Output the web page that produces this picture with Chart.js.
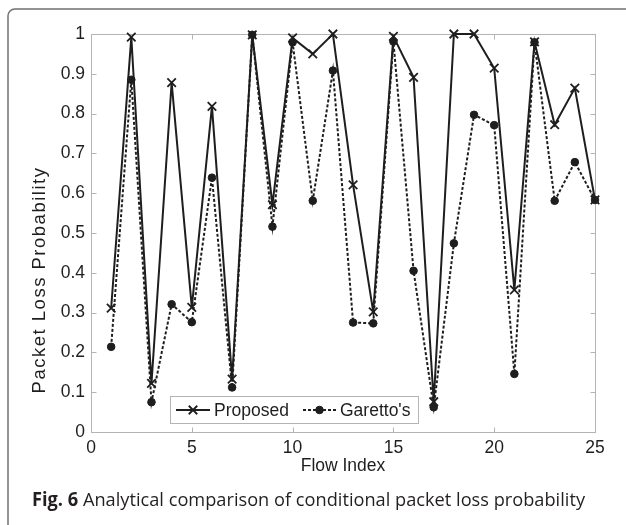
<!DOCTYPE html>
<html>
<head>
<meta charset="utf-8">
<script src="https://cdn.jsdelivr.net/npm/chart.js@4.4.1/dist/chart.umd.min.js"></script>
<style>
  html, body { margin: 0; padding: 0; background: #ffffff; }
  #wrap { width: 626px; height: 525px; position: relative; }
</style>
</head>
<body>
<div id="wrap"><canvas id="c" width="626" height="525"></canvas></div>
<script>
// Flow indices and per-flow loss probabilities for the two models
const flowIndex = [1, 2, 3, 4, 5, 6, 7, 8, 9, 10, 11, 12, 13, 14, 15, 16, 17, 18, 19, 20, 21, 22, 23, 24, 25];
const proposed  = [0.311, 0.992, 0.122, 0.878, 0.313, 0.818, 0.133, 0.998, 0.571, 0.990, 0.950, 1.000, 0.621,
                   0.302, 0.994, 0.891, 0.076, 1.000, 1.000, 0.914, 0.357, 0.980, 0.772, 0.864, 0.583];
const garetto   = [0.214, 0.885, 0.075, 0.321, 0.276, 0.639, 0.112, 0.998, 0.516, 0.979, 0.581, 0.908, 0.275,
                   0.273, 0.981, 0.405, 0.062, 0.474, 0.797, 0.771, 0.146, 0.979, 0.581, 0.678, 0.583];
const xTicks = [0, 5, 10, 15, 20, 25];
const yTicks = [0, 0.1, 0.2, 0.3, 0.4, 0.5, 0.6, 0.7, 0.8, 0.9, 1];
const seriesNames = ['Proposed', "Garetto's"];
const xTitle = 'Flow Index';
const yTitle = 'Packet Loss Probability';
const captionLead = 'Fig. 6';
const captionText = 'Analytical comparison of conditional packet loss probability';

const INK = '#1e1e1e';
const AXIS = '#b4b4b4';
const FONT = '"Liberation Sans", Arial, Helvetica, sans-serif';
const FSIZE = 17.5;

Chart.defaults.font.family = FONT;
Chart.defaults.color = INK;

const toPoints = vals => flowIndex.map((f, i) => ({ x: f, y: vals[i] }));

// Axes box with inward ticks on all four sides
const axesBox = {
  id: 'axesBox',
  beforeDatasetsDraw(chart) {
    const { ctx, chartArea: a, scales: { x, y } } = chart;
    const L = Math.round(a.left) + 0.5, R = Math.round(a.right) + 0.5;
    const T = Math.round(a.top) + 0.5, B = Math.round(a.bottom) + 0.5;
    const tl = 5;
    ctx.save();
    ctx.strokeStyle = AXIS;
    ctx.lineWidth = 1;
    ctx.strokeRect(L, T, R - L, B - T);
    ctx.beginPath();
    x.ticks.forEach(t => {
      const px = Math.round(x.getPixelForValue(t.value)) + 0.5;
      ctx.moveTo(px, B); ctx.lineTo(px, B - tl);
      ctx.moveTo(px, T); ctx.lineTo(px, T + tl);
    });
    y.ticks.forEach(t => {
      const py = Math.round(y.getPixelForValue(t.value)) + 0.5;
      ctx.moveTo(L, py); ctx.lineTo(L + tl, py);
      ctx.moveTo(R, py); ctx.lineTo(R - tl, py);
    });
    ctx.stroke();

    // vertical axis title, sitting slightly below the axis midpoint
    ctx.fillStyle = INK;
    ctx.font = `18.5px ${FONT}`;
    if ('letterSpacing' in ctx) ctx.letterSpacing = '1.5px';
    ctx.textAlign = 'center';
    ctx.textBaseline = 'middle';
    ctx.translate(40, 280);
    ctx.rotate(-Math.PI / 2);
    ctx.fillText(yTitle, 0, 0);
    ctx.restore();
  }
};

// Legend box placed inside the plot, near the bottom
const innerLegend = {
  id: 'innerLegend',
  afterDatasetsDraw(chart) {
    const { ctx } = chart;
    const box = { x: 170.5, y: 396.5, w: 248, h: 27 };
    const cy = box.y + box.h / 2;
    ctx.save();
    ctx.fillStyle = '#ffffff';
    ctx.fillRect(box.x, box.y, box.w, box.h);
    ctx.strokeStyle = AXIS;
    ctx.lineWidth = 1;
    ctx.strokeRect(box.x, box.y, box.w, box.h);
    const slots = [{ x0: 176, x1: 210, tx: 214 }, { x0: 303, x1: 336, tx: 340 }];
    chart.data.datasets.forEach((ds, i) => {
      const s = slots[i];
      ctx.strokeStyle = ds.borderColor;
      ctx.lineWidth = ds.borderWidth;
      ctx.setLineDash(ds.borderDash || []);
      ctx.beginPath();
      ctx.moveTo(s.x0, cy); ctx.lineTo(s.x1, cy);
      ctx.stroke();
      ctx.setLineDash([]);
      ctx.fillStyle = ds.backgroundColor;
      ctx.strokeStyle = ds.borderColor;
      ctx.lineWidth = ds.pointBorderWidth;
      Chart.helpers.drawPoint(ctx, { pointStyle: ds.pointStyle, radius: ds.pointRadius, rotation: 0, borderWidth: ds.pointBorderWidth }, (s.x0 + s.x1) / 2, cy);
      ctx.fillStyle = INK;
      ctx.font = `${FSIZE}px ${FONT}`;
      ctx.textBaseline = 'middle';
      ctx.textAlign = 'left';
      ctx.fillText(ds.label, s.tx, cy + 1);
    });
    ctx.restore();
  }
};

// Figure frame and caption line
const figureFrame = {
  id: 'figureFrame',
  afterDraw(chart) {
    const { ctx } = chart;
    ctx.save();
    ctx.strokeStyle = '#707070';
    ctx.lineWidth = 1.5;
    const r = 7, fx = 8, fy = 9;
    ctx.beginPath();
    ctx.moveTo(fx, 525);
    ctx.lineTo(fx, fy + r);
    ctx.arcTo(fx, fy, fx + r, fy, r);
    ctx.lineTo(626, fy);
    ctx.stroke();

    const cs = 19;
    const capFont = '"Open Sans", "Noto Sans", sans-serif';
    ctx.font = `bold ${cs}px ${capFont}`;
    const wLead = ctx.measureText(captionLead + ' ').width;
    ctx.font = `${cs}px ${capFont}`;
    const wRest = ctx.measureText(captionText).width;
    const left = 32, right = 585;
    const k = (right - left) / (wLead + wRest);
    ctx.translate(left, 506);
    ctx.scale(k, 1);
    ctx.fillStyle = '#231f20';
    ctx.textBaseline = 'alphabetic';
    ctx.font = `bold ${cs}px ${capFont}`;
    ctx.fillText(captionLead, 0, 0);
    ctx.font = `${cs}px ${capFont}`;
    ctx.fillText(captionText, wLead, 0);
    ctx.restore();
  }
};

new Chart(document.getElementById('c'), {
  type: 'scatter',
  data: {
    datasets: [
      {
        label: seriesNames[0],
        data: toPoints(proposed),
        showLine: true,
        borderColor: INK,
        backgroundColor: INK,
        borderWidth: 2,
        pointStyle: 'crossRot',
        pointRadius: 6,
        pointHoverRadius: 6,
        pointBorderWidth: 1.8,
        pointBorderColor: INK,
        pointBackgroundColor: INK,
        clip: false,
        tension: 0
      },
      {
        label: seriesNames[1],
        data: toPoints(garetto),
        showLine: true,
        borderColor: INK,
        backgroundColor: INK,
        borderWidth: 2,
        borderDash: [3, 2],
        pointStyle: 'circle',
        pointRadius: 3.8,
        pointHoverRadius: 3.8,
        pointBorderWidth: 1,
        pointBorderColor: INK,
        pointBackgroundColor: INK,
        clip: false,
        tension: 0
      }
    ]
  },
  options: {
    responsive: false,
    animation: false,
    devicePixelRatio: 1,
    events: [],
    layout: { padding: { left: 0, top: 34, right: 31, bottom: 48 } },
    plugins: { legend: { display: false }, tooltip: { enabled: false } },
    scales: {
      x: {
        type: 'linear',
        min: 0, max: 25,
        afterBuildTicks: s => { s.ticks = xTicks.map(v => ({ value: v })); },
        ticks: { font: { size: FSIZE }, color: INK, padding: 6, maxRotation: 0, autoSkip: false },
        grid: { display: false, drawTicks: false, tickLength: 0 },
        border: { display: false },
        title: { display: true, text: xTitle, font: { size: FSIZE }, color: INK, padding: { top: 0, bottom: 0 } },
        afterFit: s => { s.height = 45; }
      },
      y: {
        type: 'linear',
        min: 0, max: 1,
        afterBuildTicks: s => { s.ticks = yTicks.map(v => ({ value: v })); },
        ticks: { font: { size: FSIZE }, color: INK, padding: 6, autoSkip: false, callback: v => String(+Number(v).toFixed(1)) },
        grid: { display: false, drawTicks: false, tickLength: 0 },
        border: { display: false },
        title: { display: false },
        afterFit: s => { s.width = 91; }
      }
    }
  },
  plugins: [axesBox, innerLegend, figureFrame]
});
</script>
</body>
</html>
